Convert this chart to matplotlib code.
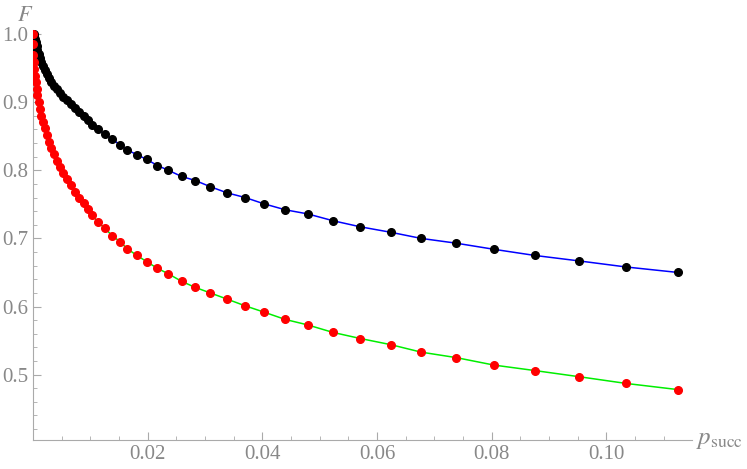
import numpy as np
import matplotlib
matplotlib.use("Agg")
import matplotlib.pyplot as plt
from matplotlib.ticker import MultipleLocator

plt.rcParams["font.family"] = "Liberation Serif"
plt.rcParams["mathtext.fontset"] = "stix"

# shared p_succ sample positions
p_succ = [0.0001, 0.0002, 0.0003, 0.0005, 0.0006, 0.0007, 0.0010, 0.0012, 0.0014, 0.0018,
          0.0021, 0.0024, 0.0028, 0.0032, 0.0037, 0.0041, 0.0047, 0.0052, 0.0059, 0.0066,
          0.0073, 0.0080, 0.0088, 0.0096, 0.0103, 0.0113, 0.0125, 0.0138, 0.0152, 0.0164,
          0.0181, 0.0198, 0.0217, 0.0236, 0.0259, 0.0283, 0.0309, 0.0338, 0.0370, 0.0402,
          0.0440, 0.0479, 0.0523, 0.0571, 0.0624, 0.0677, 0.0738, 0.0804, 0.0875, 0.0952,
          0.1035, 0.1125]

f_black = [1.000, 0.997, 0.993, 0.989, 0.983, 0.977, 0.971, 0.965, 0.959, 0.953,
           0.948, 0.942, 0.936, 0.930, 0.924, 0.919, 0.914, 0.908, 0.903, 0.898,
           0.892, 0.885, 0.880, 0.874, 0.867, 0.860, 0.853, 0.846, 0.837, 0.830,
           0.823, 0.816, 0.807, 0.800, 0.791, 0.785, 0.776, 0.767, 0.760, 0.751,
           0.742, 0.736, 0.726, 0.717, 0.709, 0.700, 0.693, 0.684, 0.675, 0.667,
           0.658, 0.650]

f_red = [0.959, 0.949, 0.939, 0.930, 0.920, 0.910, 0.900, 0.890, 0.880, 0.871,
         0.862, 0.852, 0.842, 0.833, 0.824, 0.814, 0.805, 0.796, 0.787, 0.778,
         0.768, 0.760, 0.752, 0.743, 0.734, 0.724, 0.715, 0.704, 0.695, 0.685,
         0.675, 0.666, 0.656, 0.648, 0.637, 0.628, 0.620, 0.611, 0.601, 0.592,
         0.581, 0.573, 0.562, 0.553, 0.544, 0.533, 0.525, 0.514, 0.506, 0.497,
         0.487, 0.478]
# extra red points crowded at the top
p_red_top = [0.0, 0.00002, 0.00005]
f_red_top = [1.000, 0.985, 0.970]

pr = p_red_top + p_succ
fr = f_red_top + f_red

W, H = 747, 469
fig = plt.figure(figsize=(W / 100, H / 100), dpi=100)
ax = fig.add_axes([33.1 / W, (H - 440) / H, (691.7 - 33.1) / W, (440 - 30) / H])

ax.plot(p_succ, f_black, color="blue", lw=1.1, zorder=2)
ax.plot(pr, fr, color="#00ee00", lw=1.1, zorder=2)
ax.plot(p_succ, f_black, "o", color="black", ms=5.5, zorder=3)
ax.plot(pr, fr, "o", color="red", ms=5.5, zorder=3)

ax.set_xlim(0, 0.1149)
ax.set_ylim(0.404, 1.006)
for s in ["top", "right"]:
    ax.spines[s].set_visible(False)
for s in ["left", "bottom"]:
    ax.spines[s].set_color("#aaaaaa")

gray = "#888888"
ax.xaxis.set_minor_locator(MultipleLocator(0.005))
ax.yaxis.set_minor_locator(MultipleLocator(0.02))
ax.set_xticks([0.02, 0.04, 0.06, 0.08, 0.10])
ax.set_xticklabels(["0.02", "0.04", "0.06", "0.08", "0.10"])
ax.set_yticks([0.5, 0.6, 0.7, 0.8, 0.9, 1.0])
ax.set_yticklabels(["0.5", "0.6", "0.7", "0.8", "0.9", "1.0"])
ax.tick_params(which="both", direction="in", color="#aaaaaa", labelcolor=gray,
               labelsize=15)
ax.tick_params(which="major", length=6)
ax.tick_params(which="minor", length=3)

ax.text(0.0, 1.012, "$F$", transform=ax.transData, color=gray, fontsize=16,
        ha="right", va="bottom")
fig.text(696 / W, (H - 440) / H, r"$p_{\rm succ}$", color=gray, fontsize=18,
         ha="left", va="center")

fig.savefig("out.png", dpi=100)
